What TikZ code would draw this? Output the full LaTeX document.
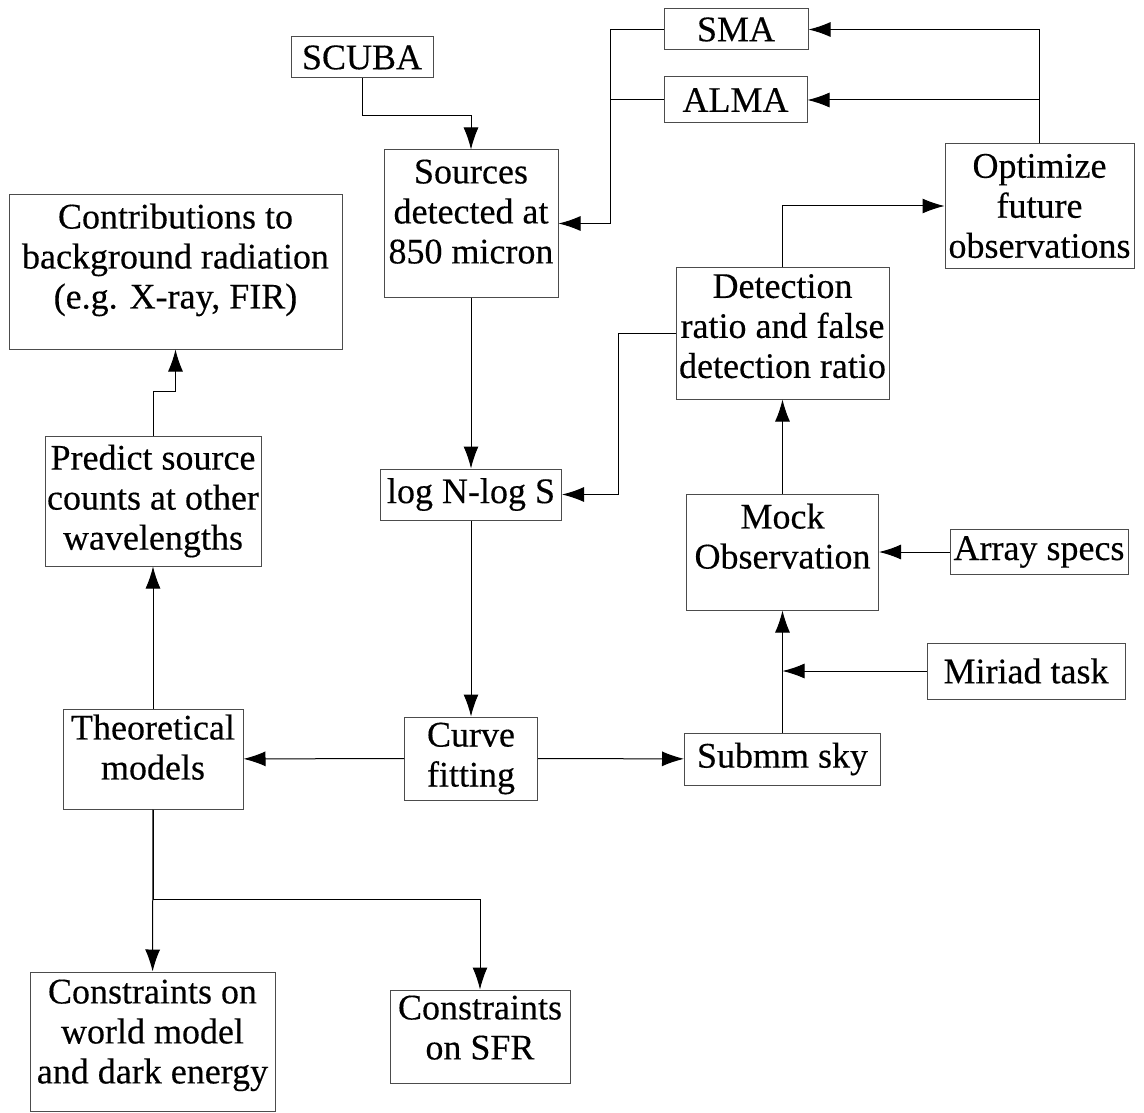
\documentclass[tikz,border=0pt]{standalone}
\usepackage{fontspec}
\setmainfont[FakeBold=0.3]{Liberation Serif}
\usepackage{tikz}
\usetikzlibrary{arrows.meta, positioning}
\tikzstyle{box} = [rectangle, draw=black!70, line width=1pt, text centered, align=center, inner sep=1pt, font=\fontsize{36}{40}\selectfont]
\tikzstyle{line} = [draw, line width=1pt, -{Latex[length=22pt,width=15pt]}]
\tikzstyle{plainline} = [draw, line width=1pt]

\begin{document}
\begin{tikzpicture}[x=1pt, y=-1pt, node distance=271pt]
    \useasboundingbox (0,0) rectangle (1144,1113);
    % Nodes
    \node [box, minimum width=142pt, minimum height=41pt] (scuba) at (362,57.5) {SCUBA};
    \node [box, minimum width=144pt, minimum height=41pt] (sma) at (736,29.5) {SMA};
    \node [box, minimum width=143pt, minimum height=46pt] (alma) at (735.5,100) {ALMA};
    \node [box, minimum width=174pt, minimum height=147pt] (sources) at (471,223.5) {Sources\\ detected at\\ 850 micron\\[-28pt] \strut};
    \node [box, minimum width=333pt, minimum height=154pt] (contrib) at (175.5,272) {Contributions to\\ background radiation\\ (e.g. X-ray, FIR)\\[-20pt] \strut};
    \node [box, minimum width=189pt, minimum height=124pt] (optimize) at (1039.5,206) {Optimize\\ future\\ observations};
    \node [box, minimum width=213pt, minimum height=132pt] (detect) at (782.5,333) {Detection\\ ratio and false\\ detection ratio\\[-38pt] \strut};
    \node [box, minimum width=216pt, minimum height=130pt] (predict) at (153,501) {Predict source\\ counts at other\\ wavelengths};
    \node [box, below of=sources, minimum width=181pt, minimum height=51pt] (logn) {log N-log S};
    \node [box, below of=logn, node distance=264pt, minimum width=133pt, minimum height=83pt] (curve) {Curve\\ fitting};
    \node [box, below of=detect, node distance=219pt, minimum width=192pt, minimum height=116pt] (mock) {Mock\\ Observation\\[-20pt] \strut};
    \node [box, minimum width=178pt, minimum height=45pt] (array) at (1039,552) {Array specs};
    \node [box, minimum width=198pt, minimum height=56pt] (miriad) at (1026,671) {Miriad task};
    \node [box, below of=predict, node distance=258pt, minimum width=180pt, minimum height=100pt] (theory) {Theoretical\\ models\\[-28pt] \strut};
    \node [box, below of=mock, node distance=207pt, minimum width=196pt, minimum height=52pt] (submm) {Submm sky};
    \node [box, minimum width=245pt, minimum height=139pt] (cworld) at (152.5,1041.5) {Constraints on\\ world model\\ and dark energy\\[-32pt] \strut};
    \node [box, minimum width=180pt, minimum height=93pt] (csfr) at (480,1036.5) {Constraints\\ on SFR\\[-34pt] \strut};

    % Edges
    \path [line] (scuba.south) -- ++(0,37) -| (sources.north);
    \path [line] (sma.west) -- ++(-53,0) |- (sources.east);
    \path [plainline] (alma.west) -- ++(-53,0);
    \path [line] (optimize.north) |- (sma.east);
    \path [line] (optimize.north) |- (alma.east);
    \path [line] (detect.north) |- (optimize.west);
    \path [line] (detect.west) -- ++(-57,0) |- (logn.east);
    \path [line] (sources) -- (logn);
    \path [line] (logn) -- (curve);
    \path [line] (curve) -- (theory);
    \path [line] (curve) -- (submm);
    \path [line] (submm) -- (mock);
    \path [line] (miriad.west) -- (miriad.west -| submm.north);
    \path [line] (array) -- (mock);
    \path [line] (mock) -- (detect);
    \path [line] (theory) -- (predict);
    \path [line] (predict.north) -- ++(0,-44) -| (contrib.south);
    \path [line] (theory) -- (cworld);
    \path [line] (theory.south) -- ++(0,90) -| (csfr.north);
\end{tikzpicture}
\end{document}
